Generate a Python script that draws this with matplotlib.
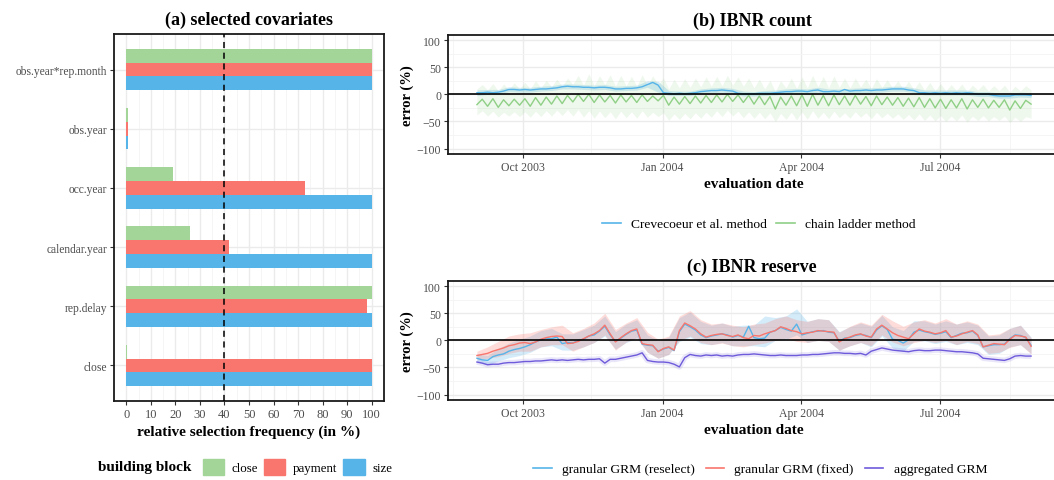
import numpy as np
import pandas as pd
import matplotlib
matplotlib.use('Agg')
import matplotlib.pyplot as plt
import matplotlib.dates as mdates
from matplotlib.patches import Patch
from matplotlib.lines import Line2D
from matplotlib.ticker import MultipleLocator

plt.rcParams['font.family'] = ['Liberation Serif', 'DejaVu Serif']

# ---- (a) selected covariates ----
covariates = ['close', 'rep.delay', 'calendar.year', 'occ.year', 'obs.year', 'obs.year*rep.month']
freq_close = [0.3, 100, 26, 19, 0.5, 100]
freq_payment = [100, 98, 42, 73, 0.5, 100]
freq_size = [100, 100, 100, 100, 0.5, 100]
threshold = 40

# ---- (b) IBNR count (every 3.5 days) ----
eval_dates = pd.date_range('2003-09-01', periods=105, freq='84h')
band_dates = pd.date_range('2003-09-01', periods=53, freq='7D')

crev = [3, 3, 4, 3, 4, 6, 9, 9, 8,
        9, 8, 9, 10, 10, 11, 12, 14, 15,
        14, 14, 13, 13, 12, 13, 13, 12, 10,
        10, 11, 11, 12, 14, 18, 22, 17,
        3, 2, 1, 2, 1, 2, 3, 5, 6,
        7, 7, 8, 7, 6, 2, 1, 1,
        1, 2, 2, 2, 3, 4, 5, 5, 6,
        6, 5, 7, 8, 5, 5, 6, 5, 9,
        6, 7, 7, 8, 7, 8, 8, 9, 10,
        10, 10, 8, 7, 3, 3, 2, 3,
        2, 3, 2, 3, 2, 3, 2, 0, 0,
        0, -2, -3, -3, -3, -1, -1, -1, -2]
crev_hi = [8, 9, 9, 14, 13, 13, 15, 16, 19, 19, 18, 17, 18, 15, 16, 17, 25, 24, 7, 6, 6,
           10, 12, 13, 11, 6, 5, 7, 8, 10, 11, 10, 13, 10, 10, 11, 12, 12, 13, 15, 15, 12,
           8, 8, 8, 8, 8, 5, 5, 2, 2, 4, 3]
crev_lo = [-2, 0, 0, 5, 4, 4, 6, 7, 10, 10, 9, 8, 9, 6, 7, 8, 13, 4, -2, -2, -2,
           1, 3, 4, 2, -3, -3, -2, -1, 1, 2, 1, 4, 1, 1, 2, 3, 3, 4, 6, 6, 3,
           -1, -1, -1, -1, -1, -4, -4, -7, -7, -5, -6]

chain = [-19, -9, -22, -8, -24, -10, -21, -9, -20,
         -8, -22, -6, -20, -5, -18, -3, -17, -2,
         -14, 0, -13, 0, -15, -1, -14, -2, -16,
         -1, -14, -2, -15, -1, -13, -3, -12,
         -2, -20, -5, -18, -4, -17, -3, -16, -2,
         -15, -1, -14, 0, -13, -1, -15, -2,
         -18, -3, -19, -4, -27, -5, -20, -3, -21,
         -1, -22, 0, -20, -2, -21, -1, -19, -3,
         -20, -2, -18, -4, -21, -3, -19, -5, -20,
         -6, -22, -7, -23, -6, -24, -8, -25,
         -9, -26, -10, -25, -8, -27, -10, -24, -9,
         -25, -11, -24, -10, -29, -12, -26, -11, -18]
chain_hi = [10, 18, 8, 20, 6, 19, 9, 21, 10,
            22, 10, 25, 12, 26, 14, 28, 15, 30,
            18, 35, 17, 38, 16, 34, 18, 36, 15,
            35, 16, 33, 15, 36, 17, 34, 18,
            30, 10, 28, 12, 29, 13, 30, 14, 32,
            15, 33, 16, 35, 17, 32, 15, 30,
            12, 28, 10, 26, 5, 25, 12, 30, 11,
            32, 12, 35, 14, 33, 12, 34, 13, 30,
            12, 30, 14, 28, 11, 29, 13, 27, 12,
            25, 10, 24, 9, 23, 8, 22, 7,
            20, 6, 18, 7, 19, 5, 17, 8, 18,
            6, 16, 7, 17, 4, 15, 6, 16, 8]
chain_lo = [-38, -30, -40, -31, -42, -33, -40, -32, -41,
            -32, -42, -31, -41, -30, -40, -29, -39, -28,
            -40, -28, -42, -30, -44, -31, -43, -32, -45,
            -31, -43, -32, -44, -30, -42, -33, -41,
            -34, -48, -36, -46, -35, -45, -34, -44, -33,
            -42, -30, -41, -29, -40, -31, -43, -32,
            -44, -33, -45, -34, -50, -35, -46, -33, -47,
            -32, -46, -30, -44, -33, -45, -31, -43, -34,
            -44, -32, -42, -34, -45, -33, -43, -35, -44,
            -36, -46, -37, -47, -36, -48, -38, -49,
            -39, -50, -40, -49, -38, -51, -40, -48, -39,
            -49, -41, -48, -40, -52, -42, -50, -41, -44]

# ---- (c) IBNR reserve ----
grm_reselect = [-33, -36, -37, -30, -27, -25, -20, -17, -15,
                -12, -8, -3, 1, 4, 3, 6, -6, -4,
                -5, 0, 2, 8, 10, 17, 26, 10, -2,
                4, 11, 17, 19, -7, -9, -10, -20,
                -16, -13, -19, 16, 30, 25, 19, 10, 5,
                8, 10, 12, 10, 6, 9, 6, 26,
                5, 3, 4, 15, 18, 24, 20, 17, 30,
                10, 13, 16, 17, 18, 15, 14, -2, 4,
                5, 9, 11, 9, 5, 19, 27, 20, 2,
                0, -5, 1, 15, 19, 16, 14, 11,
                13, 16, 5, 9, 13, 14, 17, 9, -12,
                -10, -8, -8, -7, 3, 10, 9, 5, -9]
grm_fixed = [-28, -26, -24, -20, -17, -14, -10, -8, -5,
             -4, -6, -3, 2, 5, 7, 8, 7, -6,
             -5, -2, 3, 8, 12, 18, 28, 12, -3,
             5, 12, 18, 21, -6, -8, -9, -21,
             -15, -12, -18, 18, 32, 27, 21, 12, 6,
             9, 11, 12, 9, 7, 10, 5, 3,
             9, 8, 12, 15, 18, 25, 22, 18, 16,
             12, 14, 15, 18, 17, 16, 15, -3, 3,
             6, 10, 12, 8, 6, 21, 28, 21, 14,
             9, 6, 3, 12, 21, 17, 15, 12,
             14, 18, 6, 8, 12, 15, 18, 10, -12,
             -9, -6, -7, -8, 2, 9, 8, 6, -11]
grm_agg = [-40, -42, -45, -44, -44, -42, -41, -41, -40,
           -39, -39, -38, -38, -37, -36, -37, -36, -37,
           -36, -35, -36, -35, -35, -34, -42, -35, -35,
           -33, -31, -29, -27, -23, -37, -39, -40,
           -40, -41, -44, -49, -32, -26, -28, -29, -27,
           -28, -27, -29, -28, -29, -27, -26, -26,
           -25, -26, -27, -28, -28, -27, -28, -28, -28,
           -27, -27, -26, -26, -25, -24, -23, -23, -24,
           -24, -25, -24, -27, -20, -17, -14, -16, -18,
           -19, -20, -21, -19, -18, -19, -19, -18,
           -18, -19, -20, -21, -21, -22, -23, -25, -33,
           -34, -35, -36, -37, -34, -29, -28, -29, -29]
reselect_hi = [-25, -28, -15, -5, 2, 8, 18, 22, 12, 12, 20, 28, 45, 16, 30, 38, 10, 0, 6,
               42, 52, 35, 28, 32, 26, 28, 28, 45, 42, 45, 58, 35, 40, 38, 16, 25, 32, 26,
               46, 25, 18, 36, 36, 30, 36, 30, 34, 28, 8, 10, 22, 28, 6]
reselect_lo = [-40, -45, -38, -32, -28, -22, -12, -10, -18, -18, -12, -4, 8, -16, -4, 4,
               -22, -33, -26, -2, 6, -6, -8, -4, -10, -10, -10, -12, 0, 2, 10, -4, 0, -2,
               -18, -10, -4, -12, 8, -14, -20, -2, -1, -6, -2, -8, -4, -8, -26, -24, -12, -8, -24]
fixed_hi = [-20, -12, -2, 8, 12, 14, 20, 25, 28, 14, 22, 32, 50, 20, 32, 42, 15, 2, 8,
            45, 55, 38, 30, 32, 28, 25, 30, 32, 40, 45, 38, 35, 40, 38, 15, 26, 34, 28,
            48, 36, 26, 34, 38, 32, 40, 30, 36, 30, 10, 12, 22, 28, 5]
fixed_lo = [-35, -33, -30, -24, -20, -20, -12, -8, -8, -20, -12, -4, 10, -18, -3, 5,
            -22, -33, -26, 0, 8, -4, -8, -5, -10, -12, -8, -5, 0, 4, -2, -4, 0, -2,
            -18, -10, -4, -10, 10, -3, -10, -4, 0, -4, 0, -8, -2, -6, -24, -22, -13, -8, -25]

c_green_bar = '#A3D598'
c_red = '#F8766D'
c_blue = '#56B4E9'
c_green = '#8FD086'
c_purple = '#6E5BDB'
grey_txt = '#4D4D4D'
leg_size = 9.7

W, H = 1054, 481
fig = plt.figure(figsize=(W / 100, H / 100), dpi=100)


def box(l, t, r, b):
    return [l / W, 1 - b / H, (r - l) / W, (b - t) / H]


def frame(ax, size):
    for s in ax.spines.values():
        s.set_linewidth(1.3)
        s.set_color('#1A1A1A')
    ax.tick_params(which='major', length=3, width=0.8, color='#333333',
                   labelsize=size, labelcolor=grey_txt, pad=2)
    ax.tick_params(which='minor', length=0)
    ax.grid(which='major', color='#EBEBEB', lw=1.0)
    ax.grid(which='minor', color='#F4F4F4', lw=0.6)
    ax.set_axisbelow(True)


# ---- left panel ----
ax1 = fig.add_axes(box(114, 35, 384, 402))
ypos = np.arange(1, len(covariates) + 1)
h = 0.7 / 3
ax1.barh(ypos + h, freq_close, height=h, color=c_green_bar, zorder=2)
ax1.barh(ypos, freq_payment, height=h, color=c_red, zorder=2)
ax1.barh(ypos - h, freq_size, height=h, color=c_blue, zorder=2)
ax1.axvline(threshold, color='black', ls=(0, (4, 3)), lw=1.1, zorder=3)
ax1.set_xlim(-5, 105)
ax1.set_ylim(0.4, len(covariates) + 0.6)
ax1.set_xticks(np.arange(0, 101, 10))
ax1.xaxis.set_minor_locator(MultipleLocator(5))
ax1.set_yticks(ypos)
ax1.set_yticklabels(covariates)
ax1.grid(axis='y', which='minor', visible=False)
frame(ax1, 9)
ax1.tick_params(axis='y', labelsize=8.3)
ax1.set_title('(a) selected covariates', fontsize=13, fontweight='bold', pad=7)
ax1.set_xlabel('relative selection frequency (in %)', fontsize=11, fontweight='bold', labelpad=3)

fig.text(98 / W, 1 - 468 / H, 'building block', fontsize=11, fontweight='bold', va='center')
bar_handles = [Patch(color=c_green_bar), Patch(color=c_red), Patch(color=c_blue)]
fig.legend(bar_handles, ['close', 'payment', 'size'], loc='center left',
           bbox_to_anchor=(191 / W, 1 - 468 / H), ncol=3, frameon=False, fontsize=9.3,
           handlelength=1.65, handleheight=1.5, handletextpad=0.6, columnspacing=0.45)

# ---- right panels ----
major_dates = pd.to_datetime(['2003-10-01', '2004-01-01', '2004-04-01', '2004-07-01'])
minor_dates = pd.to_datetime(['2003-08-16', '2003-11-15', '2004-02-15', '2004-05-16', '2004-08-16'])


def style_ts(ax, title):
    ax.set_xlim(pd.Timestamp('2003-08-13'), pd.Timestamp('2004-09-18'))
    ax.set_ylim(-110, 110)
    ax.set_yticks([-100, -50, 0, 50, 100])
    ax.yaxis.set_minor_locator(MultipleLocator(25))
    ax.set_xticks(major_dates)
    ax.set_xticks(minor_dates, minor=True)
    ax.xaxis.set_major_formatter(mdates.DateFormatter('%b %Y'))
    frame(ax, 8.5)
    ax.axhline(0, color='black', lw=1.2, zorder=5)
    ax.set_title(title, fontsize=13, fontweight='bold', pad=7, x=(752 - 448) / 612)
    ax.set_xlabel('evaluation date', fontsize=11, fontweight='bold', labelpad=3)
    ax.set_ylabel('error (%)', fontsize=10.5, fontweight='bold', labelpad=2)


ax2 = fig.add_axes(box(448, 35.7, 1060, 155))
ax2.fill_between(band_dates, crev_lo, crev_hi, color=c_blue, alpha=0.25, lw=0)
ax2.fill_between(eval_dates, chain_lo, chain_hi, color=c_green, alpha=0.15, lw=0)
ax2.plot(eval_dates, crev, color=c_blue, lw=1.0)
ax2.plot(eval_dates, chain, color=c_green, lw=1.0)
style_ts(ax2, '(b) IBNR count')

line_handles = [Line2D([], [], color=c_blue, lw=1.2), Line2D([], [], color=c_green, lw=1.2)]
fig.legend(line_handles, ['Crevecoeur et al. method', 'chain ladder method'], loc='center',
           bbox_to_anchor=(759 / W, 1 - 225 / H), ncol=2, frameon=False, fontsize=leg_size,
           handlelength=1.4, handletextpad=0.75, columnspacing=0.65)

ax3 = fig.add_axes(box(448, 281.7, 1060, 401))
ax3.fill_between(band_dates, reselect_lo, reselect_hi, color=c_blue, alpha=0.25, lw=0)
ax3.fill_between(band_dates, fixed_lo, fixed_hi, color=c_red, alpha=0.25, lw=0)
ax3.plot(eval_dates, grm_agg, color=c_purple, lw=4, alpha=0.15, solid_capstyle='butt')
ax3.plot(eval_dates, grm_reselect, color=c_blue, lw=1.0)
ax3.plot(eval_dates, grm_fixed, color=c_red, lw=1.0)
ax3.plot(eval_dates, grm_agg, color=c_purple, lw=1.0)
style_ts(ax3, '(c) IBNR reserve')

line_handles = [Line2D([], [], color=c, lw=1.2) for c in (c_blue, c_red, c_purple)]
fig.legend(line_handles, ['granular GRM (reselect)', 'granular GRM (fixed)', 'aggregated GRM'],
           loc='center', bbox_to_anchor=(760 / W, 1 - 470 / H), ncol=3, frameon=False,
           fontsize=leg_size, handlelength=1.4, handletextpad=0.75, columnspacing=0.8)

fig.savefig('out.png', dpi=100)
